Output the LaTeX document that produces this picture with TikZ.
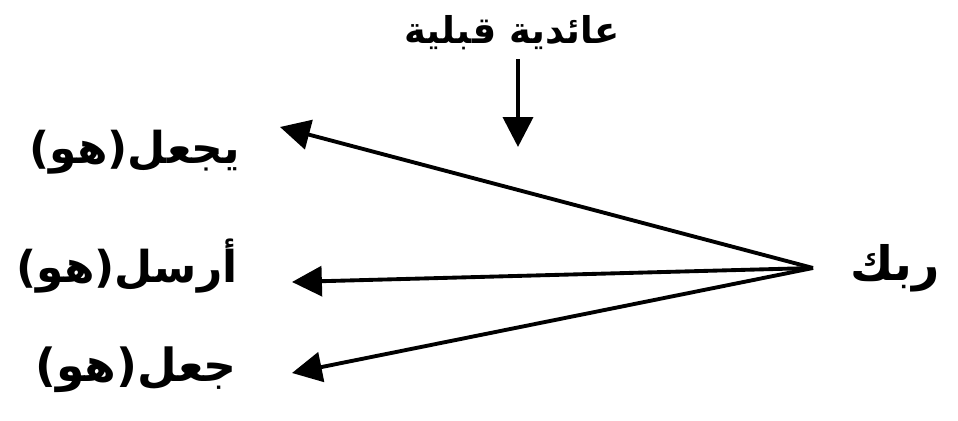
\documentclass[tikz,border=0pt]{standalone}
\usepackage{fontspec}
\newfontfamily\arabicfont[Script=Arabic]{DejaVu Sans}
\TeXXeTstate=1
\usetikzlibrary{arrows.meta, positioning}

\tikzset{
  word/.style={font=\arabicfont\bfseries\fontsize{25}{30}\selectfont, inner sep=2pt},
  link/.style={-{Triangle[length=17pt, width=17pt]}, line width=2.2pt},
}

\begin{document}
\begin{tikzpicture}[x=0.02cm, y=-0.02cm]
\useasboundingbox (0,0) rectangle (958,421);

% left column
\node[word] (verb1) at (135,152) {\beginR يجعل(هو)\endR};
\node[word] (verb2) at (127,266) {\beginR أرسل(هو)\endR};
\node[word, font=\arabicfont\bfseries\fontsize{26}{31}\selectfont] (verb3) at (136,370) {\beginR جعل(هو)\endR};

% right and top
\node[word, font=\arabicfont\bfseries\fontsize{27}{32}\selectfont] (subj) at (895,268) {\beginR ربك\endR};
\node[word, font=\arabicfont\bfseries\fontsize{21}{26}\selectfont] (feat) at (512,33) {\beginR عائدية قبلية\endR};

\coordinate (hub) at (813,268);
\coordinate (tip1) at (280,127);
\coordinate (tip2) at (292,282);
\coordinate (tip3) at (292,373);
\coordinate (down) at (518,147);

\draw[link] (hub) -- (tip1);
\draw[link] (hub) -- (tip2);
\draw[link] (hub) -- (tip3);
\draw[link, shorten <=3pt] (feat.south -| down) -- (down);
\end{tikzpicture}
\end{document}
